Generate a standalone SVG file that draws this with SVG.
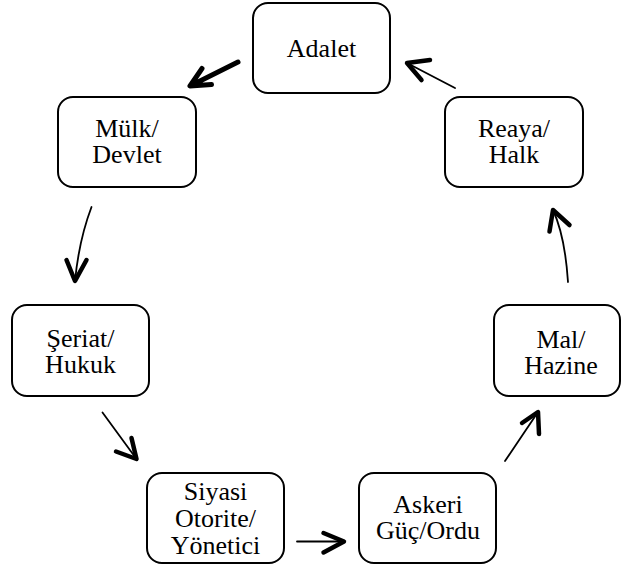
<svg xmlns="http://www.w3.org/2000/svg" width="622" height="568" viewBox="0 0 622 568">
<style>
.box{fill:#fff;stroke:#000;stroke-width:2}
text{font-family:'Liberation Serif','DejaVu Serif','Times New Roman',Times,serif !important;font-size:26px;fill:#000;text-anchor:middle}
.shaft{fill:none;stroke:#000;stroke-width:1.8;stroke-linecap:round}
.thick{fill:none;stroke:#000;stroke-width:5;stroke-linecap:round;stroke-linejoin:round}
.head{fill:none;stroke:#000;stroke-width:4.5;stroke-linecap:round;stroke-linejoin:round}
</style>
<rect width="622" height="568" fill="#fff"/>
<g id="adalet"><rect class="box" x="253" y="3" width="137" height="90" rx="15"/><text x="321.5" y="57" style="font-family:'Liberation Serif',serif">Adalet</text></g>
<g id="mulk"><rect class="box" x="58" y="97" width="138" height="90" rx="15"/><text x="127" y="137">Mülk/</text><text x="127" y="163">Devlet</text></g>
<g id="reaya"><rect class="box" x="445" y="97" width="138" height="90" rx="15"/><text x="514" y="137">Reaya/</text><text x="514" y="163">Halk</text></g>
<g id="seriat"><rect class="box" x="12" y="305" width="137" height="91" rx="15"/><text x="80.5" y="346.5">Şeriat/</text><text x="80.5" y="372.5">Hukuk</text></g>
<g id="mal"><rect class="box" x="494" y="305" width="126" height="91" rx="15"/><text x="561" y="348">Mal/</text><text x="561" y="374">Hazine</text></g>
<g id="siyasi"><rect class="box" x="147" y="473" width="137" height="90" rx="15"/><text x="215.5" y="499.5">Siyasi</text><text x="215.5" y="526.5">Otorite/</text><text x="215.5" y="553.5">Yönetici</text></g>
<g id="askeri"><rect class="box" x="359" y="473" width="137" height="90" rx="15"/><text x="428" y="512.5">Askeri</text><text x="428" y="538.5">Güç/Ordu</text></g>
<g id="connectors">
<path class="thick" d="M238,62 L190,86 M202,68.5 L190,86 L211.5,84.5"/>
<path class="shaft" d="M455,88 L407,63"/><path class="head" d="M430,60 L407,63 L421.5,80"/>
<path class="shaft" d="M91.5,207 Q79,240 75,281"/><path class="head" d="M66.5,260 L75,281 L86.5,260"/>
<path class="shaft" d="M102.5,412.5 L136.5,459"/><path class="head" d="M116,451.5 L136.5,459 L131.5,438"/>
<path class="shaft" d="M297,541.5 L344,541.5"/><path class="head" d="M323.5,533 L344,541.5 L323.5,552.5"/>
<path class="shaft" d="M505,461 L538,412"/><path class="head" d="M522,423 L538,412 L539,434"/>
<path class="shaft" d="M568,282 Q565,236 553,210"/><path class="head" d="M549.5,231.5 L553,210 L569.5,225"/>
</g>
</svg>
